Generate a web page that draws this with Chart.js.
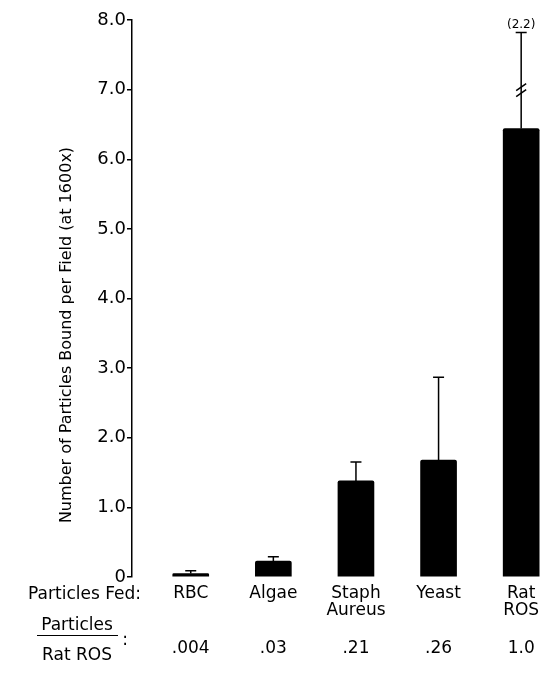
<!DOCTYPE html>
<html lang="en">
<head>
  <meta charset="UTF-8">
  <title>Particles Bound per Field</title>
  <script src="https://cdn.jsdelivr.net/npm/chart.js"></script>
  <style>
    html, body { margin: 0; padding: 0; background: #fff; }
    canvas { display: block; background: #fff; }
  </style>
</head>
<body>

<canvas id="grafico" width="541" height="673"></canvas>

<script>
  // Dados
  const categories = [['RBC'], ['Algae'], ['Staph', 'Aureus'], ['Yeast'], ['Rat', 'ROS']];
  const meanBound = [0.05, 0.23, 1.38, 1.68, 6.44];
  const errorTop = [0.09, 0.29, 1.65, 2.87, 7.82];
  const ratioToRatROS = ['.004', '.03', '.21', '.26', '1.0'];
  const brokenNote = [null, null, null, null, '(2.2)'];
  const yTicks = [0, 1, 2, 3, 4, 5, 6, 7, 8];

  const FONT = '"DejaVu Sans", sans-serif';

  // Barras de erro + quebra na barra do Rat ROS
  const errorBars = {
    id: 'errorBars',
    afterDatasetsDraw(chart) {
      const ctx = chart.ctx;
      const x = chart.scales.x, y = chart.scales.y;
      ctx.save();
      ctx.strokeStyle = '#000';
      ctx.lineWidth = 1.5;
      meanBound.forEach((v, i) => {
        const xp = x.getPixelForValue(i);
        const y0 = y.getPixelForValue(v);
        const y1 = y.getPixelForValue(errorTop[i]);
        ctx.beginPath();
        ctx.moveTo(xp, y0);
        ctx.lineTo(xp, y1);
        ctx.moveTo(xp - 5.5, y1);
        ctx.lineTo(xp + 5.5, y1);
        ctx.stroke();
        if (brokenNote[i]) {
          const yb = y.getPixelForValue(7.0);
          ctx.beginPath();
          ctx.moveTo(xp - 5, yb + 1);
          ctx.lineTo(xp + 5, yb - 6);
          ctx.moveTo(xp - 5, yb + 7);
          ctx.lineTo(xp + 5, yb);
          ctx.stroke();
          ctx.fillStyle = '#000';
          ctx.font = '12px ' + FONT;
          ctx.textAlign = 'center';
          ctx.textBaseline = 'alphabetic';
          ctx.fillText(brokenNote[i], xp, y1 - 5);
        }
      });
      ctx.restore();
    }
  };

  // Textos extras: titulo do eixo y, "Particles Fed:", razao
  const extraText = {
    id: 'extraText',
    afterDraw(chart) {
      const ctx = chart.ctx;
      const x = chart.scales.x;
      ctx.save();
      ctx.fillStyle = '#000';
      ctx.strokeStyle = '#000';

      // titulo do eixo y
      ctx.save();
      ctx.translate(71, 335);
      ctx.rotate(-Math.PI / 2);
      ctx.font = '16px ' + FONT;
      ctx.textAlign = 'center';
      ctx.textBaseline = 'alphabetic';
      ctx.fillText('Number of Particles Bound per Field (at 1600x)', 0, 0);
      ctx.restore();

      ctx.font = '17px ' + FONT;
      ctx.textBaseline = 'alphabetic';
      ctx.textAlign = 'right';
      ctx.fillText('Particles Fed:', 141, 599);

      // fracao Particles / Rat ROS
      ctx.textAlign = 'center';
      ctx.fillText('Particles', 77, 630);
      ctx.fillText('Rat ROS', 77, 660);
      ctx.lineWidth = 1.2;
      ctx.beginPath();
      ctx.moveTo(37, 635.5);
      ctx.lineTo(118, 635.5);
      ctx.stroke();
      ctx.fillText(':', 125, 645);

      ratioToRatROS.forEach((r, i) => {
        ctx.fillText(r, x.getPixelForValue(i), 653);
      });
      ctx.restore();
    }
  };

  new Chart(document.getElementById('grafico').getContext('2d'), {
    type: 'bar',
    data: {
      datasets: [{
        data: meanBound.map((v, i) => ({ x: i, y: v })),
        backgroundColor: '#000',
        borderWidth: 0,
        borderRadius: 2,
        barThickness: 36
      }]
    },
    options: {
      responsive: false,
      animation: false,
      layout: { padding: { top: 20, left: 0, right: 0, bottom: 0 } },
      plugins: {
        legend: { display: false },
        tooltip: { enabled: false }
      },
      scales: {
        x: {
          type: 'linear',
          offset: false,
          min: -0.711,
          max: 4.24,
          afterBuildTicks: s => { s.ticks = categories.map((c, i) => ({ value: i })); },
          afterFit: s => { s.height = 96; s.paddingLeft = 0; s.paddingRight = 0; },
          grid: { display: false, drawTicks: false },
          border: { display: false },
          ticks: {
            callback: v => categories[v],
            color: '#000',
            padding: 8,
            maxRotation: 0,
            autoSkip: false,
            font: { family: FONT, size: 17, lineHeight: 1.0 }
          }
        },
        y: {
          min: 0,
          max: 8,
          afterBuildTicks: s => { s.ticks = yTicks.map(v => ({ value: v })); },
          afterFit: s => { s.width = 132; },
          grid: { drawOnChartArea: false, drawTicks: true, tickLength: 5, color: '#000', lineWidth: 1.5 },
          border: { display: true, color: '#000', width: 1.5 },
          ticks: {
            callback: v => v === 0 ? '0' : v.toFixed(1),
            color: '#000',
            padding: 1,
            font: { family: FONT, size: 18 }
          }
        }
      }
    },
    plugins: [errorBars, extraText]
  });
</script>

</body>
</html>
